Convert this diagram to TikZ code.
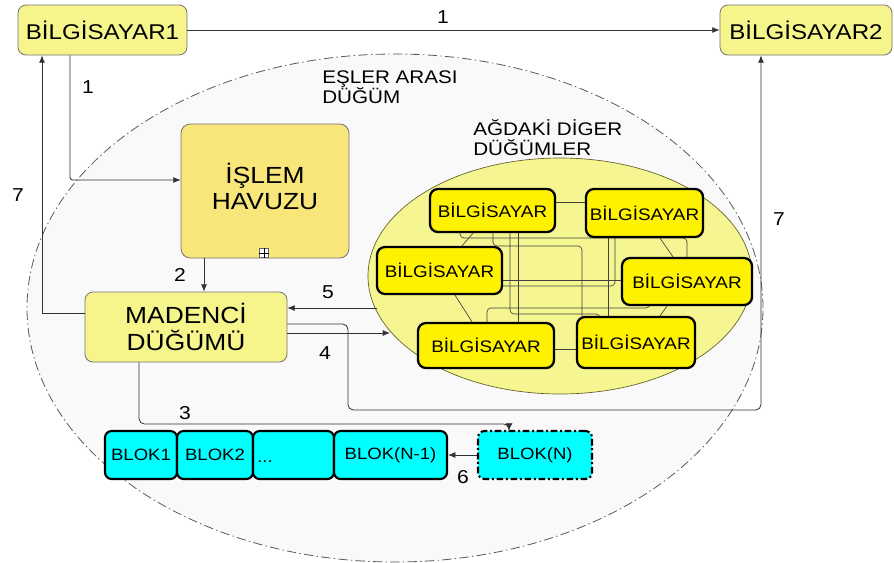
\documentclass[tikz,border=0pt]{standalone}
\usepackage{fontspec}
\setmainfont{Liberation Sans}[FakeStretch=1.13]
\usetikzlibrary{shapes.geometric,arrows.meta,calc}
\definecolor{paleyellow}{RGB}{245,245,140}
\definecolor{poolyellow}{RGB}{248,230,122}
\definecolor{peerbg}{RGB}{249,249,249}
\definecolor{edgegray}{RGB}{50,50,50}
\definecolor{netyellow}{RGB}{245,245,145}
\definecolor{chain}{RGB}{0,255,255}
\pgfdeclarelayer{regions}
\pgfdeclarelayer{links}
\pgfsetlayers{regions,links,main}
\begin{document}
\begin{tikzpicture}[x=0.75pt,y=-0.75pt,
  boxsize/.style 2 args={minimum width=#1*0.75pt, minimum height=#2*0.75pt},
  host/.style={draw=gray!90!black, line width=0.6pt, fill=paleyellow, rounded corners=6pt,
    inner sep=0pt, font=\fontsize{16}{18}\selectfont},
  peer/.style={draw=black, line width=1.7pt, fill=yellow, rounded corners=6pt, inner sep=0pt,
    font=\fontsize{12.5}{14}\selectfont},
  blk/.style={draw=black, line width=1.6pt, fill=chain, rounded corners=5pt, inner sep=0pt,
    font=\fontsize{12.3}{14}\selectfont},
  conn/.style={draw=edgegray, line width=0.6pt},
  arr/.style={conn, -{Latex[length=5.5pt,width=4.5pt]}},
  mesh/.style={draw=black!75, line width=0.5pt, rounded corners=3pt},
  num/.style={font=\fontsize{14}{16}\selectfont, inner sep=0pt},
  caption/.style={font=\fontsize{13.7}{15}\selectfont, align=left, inner sep=0pt, anchor=west},
  big/.style={font=\fontsize{17.5}{20}\selectfont, align=center, inner sep=0pt},
]
\useasboundingbox (0,0) rectangle (894,562);

% peer-to-peer node region and the network of other nodes
\begin{pgfonlayer}{regions}
\fill[white] (0,0) rectangle (894,562);
\node[ellipse, draw=gray!70!black, line width=0.6pt, dash pattern=on 7pt off 2.5pt on 1pt off 2.5pt,
  fill=peerbg, boxsize={736}{508}, inner sep=0pt] (peer) at (395,308) {};
\node[ellipse, draw=olive!60!black, line width=0.5pt, fill=netyellow,
  boxsize={384}{236}, inner sep=0pt] (net) at (560,276) {};
\end{pgfonlayer}

\node[caption] (peerlbl) at (322,87.5) {EŞLER ARASI\\DÜĞÜM};
\node[caption] (netlbl) at (473,137.5) {AĞDAKİ DİGER\\DÜĞÜMLER};

% computers of the network
\node[peer, boxsize={125}{43}] (p1) at (492.5,210.5) {BİLGİSAYAR};
\node[peer, boxsize={117}{48}] (p2) at (644.5,213) {BİLGİSAYAR};
\node[peer, boxsize={125}{47}] (p3) at (439.5,270.5) {BİLGİSAYAR};
\node[peer, boxsize={130}{47}] (p4) at (687,281.5) {BİLGİSAYAR};
\node[peer, boxsize={136}{45}] (p5) at (486,345.5) {BİLGİSAYAR};
\node[peer, boxsize={118}{51}] (p6) at (636,342.5) {BİLGİSAYAR};

% mesh links between the computers
\begin{pgfonlayer}{links}
\draw[mesh] (p1.east |- 0,202) -- (p2.west |- 0,202);
\draw[mesh] (p5.east |- 0,349) -- (p6.west |- 0,349);
\draw[mesh] (p1.south -| 473,0) -- (p3.north -| 462,0);
\draw[mesh] (p3.south -| 455,0) -- (p5.north -| 472,0);
\draw[mesh] (p2.south -| 660,0) -- (p4.north -| 673,0);
\draw[mesh] (p4.south -| 667,0) -- (p6.north -| 660,0);
\draw[mesh] (p1.south -| 460,0) -- (460,238) -- (687,238) -- (p4.north -| 687,0);
\draw[mesh] (p1.south -| 493,0) -- (493,246) -- (582,246) -- (p6.north -| 582,0);
\draw[mesh] (p1.south -| 518,0) -- (p5.north -| 518,0);
\draw[mesh] (p1.south -| 510,0) -- (510,314) -- (600,314) -- (p6.north -| 600,0);
\draw[mesh] (p3.east |- 0,280) -- (p4.west |- 0,280);
\draw[mesh] (p3.east |- 0,286) -- (615,286) -- (p2.south -| 615,0);
\draw[mesh] (p5.north -| 487,0) -- (487,308) -- (650,308) -- (p4.south -| 650,0);
\draw[mesh] (p2.south -| 608,0) -- (p6.north -| 608,0);
\end{pgfonlayer}

% hosts, pool and miner
\node[host, boxsize={169}{50}] (pc1) at (102.5,30) {BİLGİSAYAR1};
\node[host, boxsize={172}{50}] (pc2) at (806,30) {BİLGİSAYAR2};
\node[host, fill=poolyellow, rounded corners=7pt, boxsize={168}{134}] (pool) at (265,191) {};
\node[big] (pooltxt) at (265,186.5) {İŞLEM\\HAVUZU};
\node[draw=gray!80!black, line width=0.4pt, fill=white, minimum size=6.5pt, inner sep=0pt] (poolmark) at (264,253) {};
\draw[line width=0.4pt] (poolmark.north) -- (poolmark.south) (poolmark.west) -- (poolmark.east);
\node[host, boxsize={202}{70}, big] (miner) at (186,327) {MADENCİ\\DÜĞÜMÜ};

% blockchain
\node[blk, boxsize={72}{48}] (bk1) at (141,455) {BLOK1};
\node[blk, boxsize={76}{48}] (bk2) at (215,455) {BLOK2};
\node[blk, boxsize={81}{48}] (bk3) at (293.5,455) {};
\node[anchor=base west, inner sep=0pt, font=\fontsize{12.3}{14}\selectfont] (dots) at (257,462) {...};
\node[blk, boxsize={113}{48}] (bk4) at (390.5,455) {BLOK(N-1)};
\node[blk, dash pattern=on 5pt off 2pt on 1.5pt off 2pt, boxsize={114}{48}] (bkN) at (535,455) {BLOK(N)};

% connectors
\draw[arr] (pc1) -- (pc2);
\node[num] (l1a) at (443,17) {1};
\draw[arr, rounded corners=2pt] (pc1.south -| 70,0) |- (pool.west |- 0,180);
\node[num] (l1b) at (88,87) {1};
\draw[arr] (pool.south -| 204,0) -- (miner.north -| 204,0);
\node[num] (l2) at (180,275) {2};
\coordinate (in5) at (377,308);
\draw[arr] (in5) -- (miner.east |- in5);
\node[num] (l5) at (328,292) {5};
\coordinate (in4) at (390,333);
\draw[arr] (miner.east |- in4) -- (in4);
\node[num] (l4) at (325,353) {4};
\draw[arr, rounded corners=4pt] (miner.east |- 0,324) -- (348,324) -- (348,410) -| (pc2.south -| 761,0);
\node[num] (l7r) at (779,219) {7};
\draw[conn, -{Latex[length=5pt,width=5.5pt]}, rounded corners=4pt] (miner.south -| 139,0) |- (509,424) [sharp corners] -- (bkN.north -| 509,0);
\node[num] (l3) at (185,413) {3};
\draw[arr] (miner.west |- 0,313) -| (pc1.south -| 42,0);
\node[num] (l7l) at (18,195) {7};
\draw[arr] (bkN) -- (bk4);
\node[num] (l6) at (463,477) {6};
\end{tikzpicture}
\end{document}
